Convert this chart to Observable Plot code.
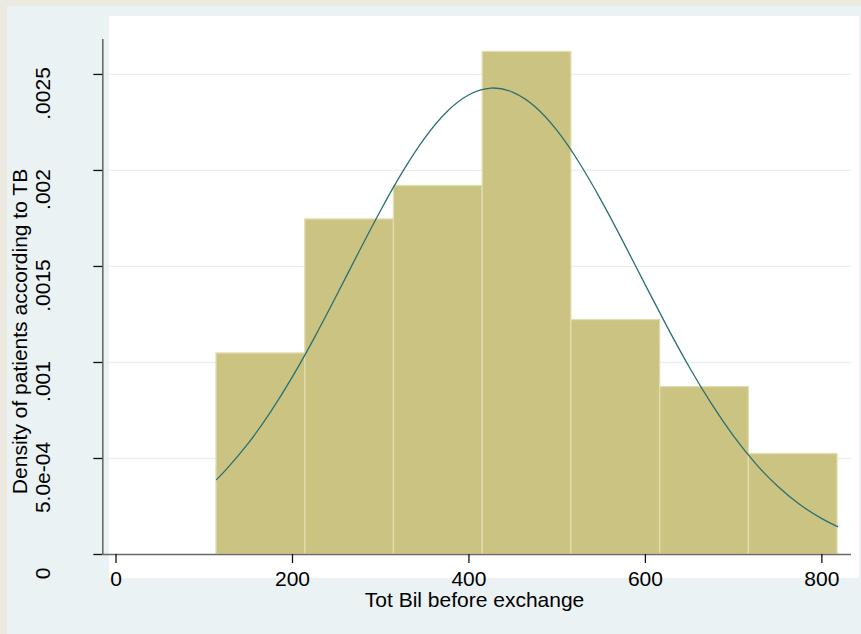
<!DOCTYPE html>
<html>
<head>
<meta charset="utf-8">
<script src="https://cdn.jsdelivr.net/npm/d3@7"></script>
<script src="https://cdn.jsdelivr.net/npm/@observablehq/plot@0.6"></script>
<style>
  html, body { margin: 0; padding: 0; }
  body { width: 861px; height: 634px; background: #ECEAE0; position: relative; overflow: hidden; }
  #panel { position: absolute; left: 7px; top: 6px; width: 854px; height: 628px; background: #EAF2F3; }
  #region { position: absolute; left: 109px; top: 16px; width: 750px; height: 562px; background: #FFFFFF; }
  #chart { position: absolute; left: 0; top: 0; }
  #chart svg { background: transparent; }
</style>
</head>
<body>
<div id="panel"></div>
<div id="region"></div>
<div id="chart"></div>
<script>
// Histogram of total bilirubin before exchange (density scale) with a normal density overlay.
const xTitle = "Tot Bil before exchange";
const yTitle = "Density of patients according to TB";

const xTicks = [0, 200, 400, 600, 800];
const xTickLabels = ["0", "200", "400", "600", "800"];
const yTicks = [0, 0.0005, 0.001, 0.0015, 0.002, 0.0025];
const yTickLabels = ["0", "5.0e-04", ".001", ".0015", ".002", ".0025"];

// bin edges and the density of each bin
const binEdges = [113.9, 214.5, 315.0, 415.6, 516.1, 616.7, 717.3, 817.8];
const binDensity = [0.001047, 0.001745, 0.001919, 0.002617, 0.001221, 0.000872, 0.000523];

// normal density curve
const curveX = [113.9, 125, 150, 175, 200, 225, 250, 275, 300, 325, 350, 375, 400, 425, 450, 475,
                500, 525, 550, 575, 600, 625, 650, 675, 700, 725, 750, 775, 800, 817.8];
const curveY = [0.000390, 0.000443, 0.000580, 0.000741, 0.000926, 0.001131, 0.001350, 0.001574,
                0.001793, 0.001995, 0.002170, 0.002306, 0.002394, 0.002429, 0.002407, 0.002332,
                0.002207, 0.002040, 0.001843, 0.001627, 0.001403, 0.001183, 0.000974, 0.000784,
                0.000616, 0.000473, 0.000355, 0.000260, 0.000187, 0.000145];

const bins = binDensity.map((d, i) => ({x1: binEdges[i], x2: binEdges[i + 1], density: d}));
const curve = curveX.map((x, i) => ({x, y: curveY[i]}));

const xMin = -15, xMax = 833.6, yMax = 0.002682, gridStart = -7.4;
const font = "'Liberation Sans', Arial, Helvetica, sans-serif";

const chart = Plot.plot({
  width: 861,
  height: 634,
  marginLeft: 102.3,
  marginRight: 10,
  marginTop: 39,
  marginBottom: 80,
  x: {domain: [xMin, xMax]},
  y: {domain: [0, yMax]},
  style: {background: "transparent", fontFamily: font, fontSize: "21px", color: "#000"},
  marks: [
    Plot.ruleY(yTicks.slice(1), {x1: gridStart, x2: xMax, stroke: "#E6EFF1", strokeWidth: 1.3}),
    Plot.rect(bins, {x1: "x1", x2: "x2", y1: 0, y2: "density", fill: "#CBC381", stroke: "#E2DDAE", strokeWidth: 1.3}),
    Plot.line(curve, {x: "x", y: "y", curve: "natural", stroke: "#2A7072", strokeWidth: 1.3}),
    Plot.ruleX([xMin], {y1: 0, y2: yMax, stroke: "#6A6A6A", strokeWidth: 1.6}),
    Plot.ruleY([0], {x1: xMin, x2: xMax, stroke: "#6A6A6A", strokeWidth: 1.6}),
    Plot.axisX({ticks: xTicks, tickSize: 9, tickPadding: 8, tickFormat: (d, i) => xTickLabels[i],
                label: null, stroke: "#111", strokeWidth: 1.3, fill: "#000"}),
    Plot.axisY({ticks: yTicks, tickSize: 9, tickFormat: () => "", label: null, stroke: "#111", strokeWidth: 1.3}),
    Plot.text(yTicks, {y: d => d, text: (d, i) => yTickLabels[i], frameAnchor: "left", rotate: -90,
                       dx: -53.3, dy: 19, textAnchor: "middle", lineAnchor: "bottom", fill: "#000"}),
    Plot.text([yTitle], {text: d => d, frameAnchor: "left", rotate: -90, dx: -76.3, dy: 34.5,
                         textAnchor: "middle", lineAnchor: "bottom", fill: "#000"}),
    Plot.text([xTitle], {text: d => d, frameAnchor: "bottom", dx: -2.6, dy: 52.7,
                         textAnchor: "middle", lineAnchor: "bottom", fill: "#000"})
  ]
});
document.getElementById("chart").appendChild(chart);
</script>
</body>
</html>
